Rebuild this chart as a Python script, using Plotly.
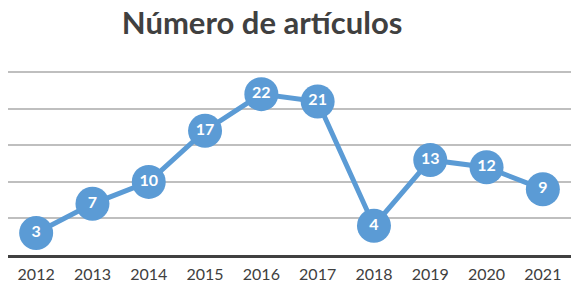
import plotly.graph_objects as go

years = ["2012", "2013", "2014", "2015", "2016", "2017", "2018", "2019", "2020", "2021"]
counts = [3, 7, 10, 17, 22, 21, 4, 13, 12, 9]

fig = go.Figure()
fig.add_trace(go.Scatter(
    x=years, y=counts,
    mode="lines+markers+text",
    line=dict(color="#5b9bd5", width=5),
    marker=dict(size=34, color="#5b9bd5"),
    text=[str(v) for v in counts],
    textposition="middle center",
    textfont=dict(family="Lato", size=16, color="white", weight="bold"),
    cliponaxis=False,
    hoverinfo="skip",
))

fig.update_layout(
    width=576, height=294,
    margin=dict(l=8, r=5, t=70, b=39, autoexpand=False),
    paper_bgcolor="white", plot_bgcolor="white",
    showlegend=False,
    title=dict(
        text="<b>Número de artículos</b>",
        x=0.455, xanchor="center", y=0.92, yanchor="middle",
        font=dict(family="Lato", size=31, color="#404040"),
    ),
    xaxis=dict(
        type="category", automargin=False,
        showgrid=False, showline=True, linecolor="#404040", linewidth=3,
        ticks="", tickfont=dict(family="Lato", size=16, color="#404040"),
        ticklabelstandoff=3,
        range=[-0.5, 9.5],
    ),
    yaxis=dict(
        range=[0, 25.3], dtick=5, showticklabels=False, automargin=False,
        showgrid=True, gridcolor="#bfbfbf", gridwidth=2,
        zeroline=False, showline=False,
    ),
)

fig.write_html(
    "out.html",
    config={"displayModeBar": False},
    post_script="document.body.style.margin='0';document.body.style.padding='0';",
)
